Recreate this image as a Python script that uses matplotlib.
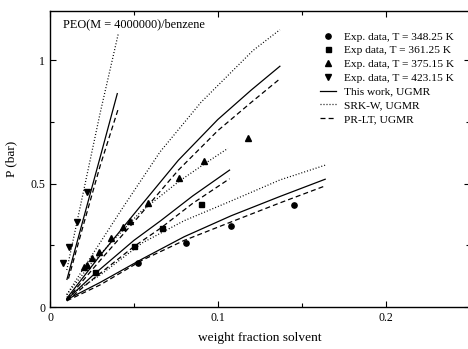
import matplotlib

matplotlib.use("Agg")

import matplotlib.pyplot as plt
from matplotlib.ticker import MultipleLocator

plt.rcParams["font.family"] = ["Liberation Serif", "DejaVu Serif"]
plt.rcParams["mathtext.fontset"] = "stix"

# experimental data (weight fraction solvent, P in bar)
x_348 = [0.0527, 0.0809, 0.108, 0.1456]
p_348 = [0.177, 0.258, 0.328, 0.412]

x_361 = [0.0268, 0.0502, 0.0669, 0.090]
p_361 = [0.143, 0.247, 0.321, 0.416]

x_375 = [0.0205, 0.0222, 0.0252, 0.029, 0.0364, 0.0437, 0.0475,
         0.0586, 0.0767, 0.092, 0.1182]
p_375 = [0.161, 0.170, 0.197, 0.224, 0.278, 0.325, 0.349,
         0.420, 0.521, 0.591, 0.686]

x_423 = [0.0079, 0.0115, 0.0163, 0.0222]
p_423 = [0.177, 0.244, 0.345, 0.467]

# model curves: this work (solid), SRK-W (dotted), PR-LT (dashed)
xs_348 = [0.010, 0.030, 0.055, 0.080, 0.108, 0.137, 0.164]
solid_348 = [0.030, 0.100, 0.195, 0.285, 0.370, 0.448, 0.518]
dotted_348 = [0.040, 0.130, 0.260, 0.350, 0.430, 0.515, 0.575]
dashed_348 = [0.025, 0.090, 0.190, 0.270, 0.345, 0.422, 0.491]

xs_361 = [0.010, 0.025, 0.050, 0.066, 0.085, 0.107]
solid_361 = [0.030, 0.125, 0.270, 0.350, 0.450, 0.555]
dashed_361 = [0.025, 0.110, 0.245, 0.320, 0.420, 0.520]
xd_361 = [0.010, 0.025, 0.054, 0.077, 0.092, 0.106]
dotted_361 = [0.050, 0.180, 0.386, 0.510, 0.580, 0.643]

xs_375 = [0.010, 0.030, 0.052, 0.0765, 0.100, 0.120, 0.137]
solid_375 = [0.035, 0.210, 0.393, 0.595, 0.760, 0.880, 0.976]
dashed_375 = [0.030, 0.190, 0.360, 0.555, 0.715, 0.830, 0.925]
xd_375 = [0.010, 0.025, 0.0437, 0.0656, 0.090, 0.121, 0.137]
dotted_375 = [0.050, 0.210, 0.406, 0.629, 0.830, 1.040, 1.124]

xs_423 = [0.0101, 0.020, 0.030, 0.0401]
solid_423 = [0.112, 0.360, 0.610, 0.865]
xdash_423 = [0.011, 0.020, 0.030, 0.0407]
dashed_423 = [0.115, 0.335, 0.575, 0.804]
xdot_423 = [0.010, 0.020, 0.030, 0.0407]
dotted_423 = [0.150, 0.470, 0.790, 1.108]


def main() -> None:
    fig = plt.figure(figsize=(4.68, 3.49), dpi=100)
    ax = fig.add_axes([50 / 468, 1 - 307 / 349, 419.5 / 468, 296 / 349])

    lw = 0.9
    dash = (0, (4, 2.5))
    dot = (0, (0.8, 1.6))

    ax.plot(x_348, p_348, "o", color="black", ms=3.8,
            label="Exp. data, T = 348.25 K")
    ax.plot(x_361, p_361, "s", color="black", ms=3.6,
            label="Exp data, T = 361.25 K")
    ax.plot(x_375, p_375, "^", color="black", ms=4.2,
            label="Exp. data, T = 375.15 K")
    ax.plot(x_423, p_423, "v", color="black", ms=4.2,
            label="Exp. data, T = 423.15 K")

    ax.plot(xs_348, solid_348, "-", color="black", lw=lw,
            label="This work, UGMR")
    ax.plot(xs_348, dotted_348, color="black", lw=lw, linestyle=dot,
            label="SRK-W, UGMR")
    ax.plot(xs_348, dashed_348, color="black", lw=lw, linestyle=dash,
            label="PR-LT, UGMR")

    ax.plot(xs_361, solid_361, "-", color="black", lw=lw)
    ax.plot(xd_361, dotted_361, color="black", lw=lw, linestyle=dot)
    ax.plot(xs_361, dashed_361, color="black", lw=lw, linestyle=dash)

    ax.plot(xs_375, solid_375, "-", color="black", lw=lw)
    ax.plot(xd_375, dotted_375, color="black", lw=lw, linestyle=dot)
    ax.plot(xs_375, dashed_375, color="black", lw=lw, linestyle=dash)

    ax.plot(xs_423, solid_423, "-", color="black", lw=lw)
    ax.plot(xdot_423, dotted_423, color="black", lw=lw, linestyle=dot)
    ax.plot(xdash_423, dashed_423, color="black", lw=lw, linestyle=dash)

    ax.set_xlim(0, 0.25)
    ax.set_ylim(0, 1.2)
    ax.xaxis.set_minor_locator(MultipleLocator(0.05))
    ax.yaxis.set_minor_locator(MultipleLocator(0.25))
    ax.set_xticks([0, 0.1, 0.2])
    ax.set_xticklabels(["0", "0.1", "0.2"])
    ax.set_yticks([0, 0.5, 1.0])
    ax.set_yticklabels(["0", "0.5", "1"])
    ax.tick_params(which="both", direction="in", top=True, right=True,
                   labelsize=8.5, width=0.8)
    ax.tick_params(which="major", length=4)
    ax.tick_params(which="minor", length=3)
    for spine in ax.spines.values():
        spine.set_linewidth(1.0)

    ax.set_xlabel("weight fraction solvent", fontsize=9.6)
    ax.xaxis.set_label_coords(0.5, -0.086)
    ax.set_ylabel("P (bar)", fontsize=9.6)
    ax.yaxis.set_label_coords(-0.079, 0.5)

    ax.text(0.0075, 1.135, "PEO(M = 4000000)/benzene", fontsize=8.85)

    ax.legend(loc="upper left", bbox_to_anchor=(0.6436, 0.93), frameon=False,
              fontsize=8.2, handlelength=1.4, handletextpad=0.7,
              labelspacing=0.33, borderaxespad=0.0, borderpad=0.0)

    fig.savefig("out.png", dpi=100)
    plt.close(fig)


if __name__ == "__main__":
    main()
